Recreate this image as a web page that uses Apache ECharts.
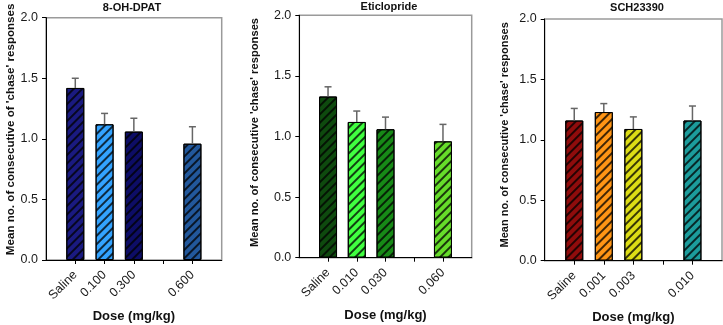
<!DOCTYPE html>
<html>
<head>
<meta charset="utf-8">
<script src="https://cdn.jsdelivr.net/npm/echarts@6/dist/echarts.min.js"></script>
<style>
html,body{margin:0;padding:0;background:#fff;}
#c{width:723px;height:325px;}
</style>
</head>
<body>
<div id="c"></div>
<script>
// ---- data ----
const titles = ['8-OH-DPAT', 'Eticlopride', 'SCH23390'];
const yNames = [
  "Mean no. of consecutive of 'chase' responses",
  "Mean no. of consecutive 'chase' responses",
  "Mean no. of consecutive 'chase' responses"
];
const xName = 'Dose (mg/kg)';
const doses1 = ['Saline', '0.100', '0.300', '', '0.600'];
const doses2 = ['Saline', '0.010', '0.030', '', '0.060'];
const doses3 = ['Saline', '0.001', '0.003', '', '0.010'];
const means1 = [1.42, 1.12, 1.06, null, 0.96];
const means2 = [1.33, 1.12, 1.06, null, 0.96];
const means3 = [1.16, 1.23, 1.09, null, 1.16];
const sem1 = [0.08, 0.09, 0.11, null, 0.14];
const sem2 = [0.08, 0.09, 0.10, null, 0.14];
const sem3 = [0.10, 0.07, 0.10, null, 0.12];
const yTicks = [0, 0.5, 1.0, 1.5, 2.0];

// ---- styles ----
const colors1 = ['#1a1a80', '#33a3ff', '#0d0d66', '#22589c'];
const colors2 = ['#0e4a0e', '#40ff40', '#178a17', '#66dd2a'];
const colors3 = ['#900c0c', '#ff9515', '#dddd15', '#1c9c9c'];
const FONT = 'Liberation Sans, Arial, Helvetica, sans-serif';
const grids = [
  {left: 46, top: 17.7, width: 175.7, height: 242.3},
  {left: 299.3, top: 15.3, width: 172.4, height: 242.4},
  {left: 544.7, top: 19, width: 177.3, height: 241.7}
];
const titlePos = [[127, -3], [384, -4], [632, -3]];
const yNameGap = [27.5, 39, 34.5];
const yNameSize = [11.6, 11.2, 11];
const yNamePad = [19, 8, 10];
const xNameGap = [50, 51, 50];

const panels = [
  {doses: doses1, means: means1, sem: sem1, colors: colors1},
  {doses: doses2, means: means2, sem: sem2, colors: colors2},
  {doses: doses3, means: means3, sem: sem3, colors: colors3}
];

const decal = {
  symbol: 'rect', symbolSize: 1,
  dashArrayX: [1, 0], dashArrayY: [1.3, 3.5],
  rotation: -Math.PI / 4,
  color: 'rgba(0,0,0,0.75)'
};

const option = {
  animation: false,
  backgroundColor: '#fff',
  textStyle: {fontFamily: FONT},
  title: titles.map((t, i) => ({
    text: t, left: titlePos[i][0], top: titlePos[i][1], textAlign: 'center',
    textStyle: {fontSize: 11, fontWeight: 'bold', color: '#111', fontFamily: FONT}
  })),
  grid: grids.map(g => Object.assign({show: true, borderColor: '#9a9a9a', borderWidth: 1.5, containLabel: false, outerBoundsMode: 'none'}, g)),
  xAxis: [], yAxis: [], series: []
};

panels.forEach((p, i) => {
  const cats = [''].concat(p.doses, ['']);
  const n = p.doses.length;
  option.xAxis.push({
    gridIndex: i, type: 'category', data: cats, boundaryGap: false,
    axisLine: {show: true, lineStyle: {color: '#000', width: 1}},
    axisTick: {show: true, length: 4, interval: (idx) => idx > 0 && idx <= n, lineStyle: {color: '#000'}},
    axisLabel: {interval: 0, rotate: 45, margin: 13, fontSize: 12.5, color: '#1a1a1a', fontFamily: FONT},
    splitLine: {show: false},
    name: xName, nameLocation: 'middle', nameGap: xNameGap[i],
    nameTextStyle: {fontSize: 13, fontWeight: 'bold', color: '#111', fontFamily: FONT}
  });
  option.yAxis.push({
    gridIndex: i, type: 'value', min: yTicks[0], max: yTicks[yTicks.length - 1], interval: 0.5,
    axisLine: {show: true, lineStyle: {color: '#000', width: 1}},
    axisTick: {show: true, length: 4, lineStyle: {color: '#000'}},
    axisLabel: {margin: 8, fontSize: 12.5, color: '#1a1a1a', fontFamily: FONT, formatter: v => v.toFixed(1)},
    splitLine: {show: false},
    name: yNames[i], nameLocation: 'middle', nameRotate: 90, nameGap: yNameGap[i],
    nameTextStyle: {fontSize: yNameSize[i], fontWeight: 'bold', color: '#111', fontFamily: FONT, padding: [0, 0, 0, yNamePad[i]]}
  });
  let ci = 0;
  const barData = cats.map((c, k) => {
    const v = k === 0 || k === n + 1 ? null : p.means[k - 1];
    if (v == null) return '-';
    const col = p.colors[ci++];
    return {value: v, itemStyle: {color: col, borderColor: '#000', borderWidth: 1, decal: decal}};
  });
  option.series.push({
    type: 'bar', xAxisIndex: i, yAxisIndex: i, barWidth: 18, data: barData, z: 2
  });
  const errData = [];
  p.means.forEach((m, k) => {
    if (m != null) errData.push([k + 1, m, m + p.sem[k]]);
  });
  option.series.push({
    type: 'custom', xAxisIndex: i, yAxisIndex: i, z: 5, data: errData,
    encode: {x: 0, y: [1, 2]},
    renderItem: (params, api) => {
      const x = api.value(0);
      const p0 = api.coord([x, api.value(1)]);
      const p1 = api.coord([x, api.value(2)]);
      const st = {stroke: '#666', lineWidth: 1.5};
      return {type: 'group', children: [
        {type: 'line', shape: {x1: p0[0], y1: p0[1], x2: p1[0], y2: p1[1]}, style: st},
        {type: 'line', shape: {x1: p1[0] - 3.5, y1: p1[1], x2: p1[0] + 3.5, y2: p1[1]}, style: st}
      ]};
    }
  });
});

const chart = echarts.init(document.getElementById('c'), null, {renderer: 'canvas'});
chart.setOption(option);
</script>
</body>
</html>
